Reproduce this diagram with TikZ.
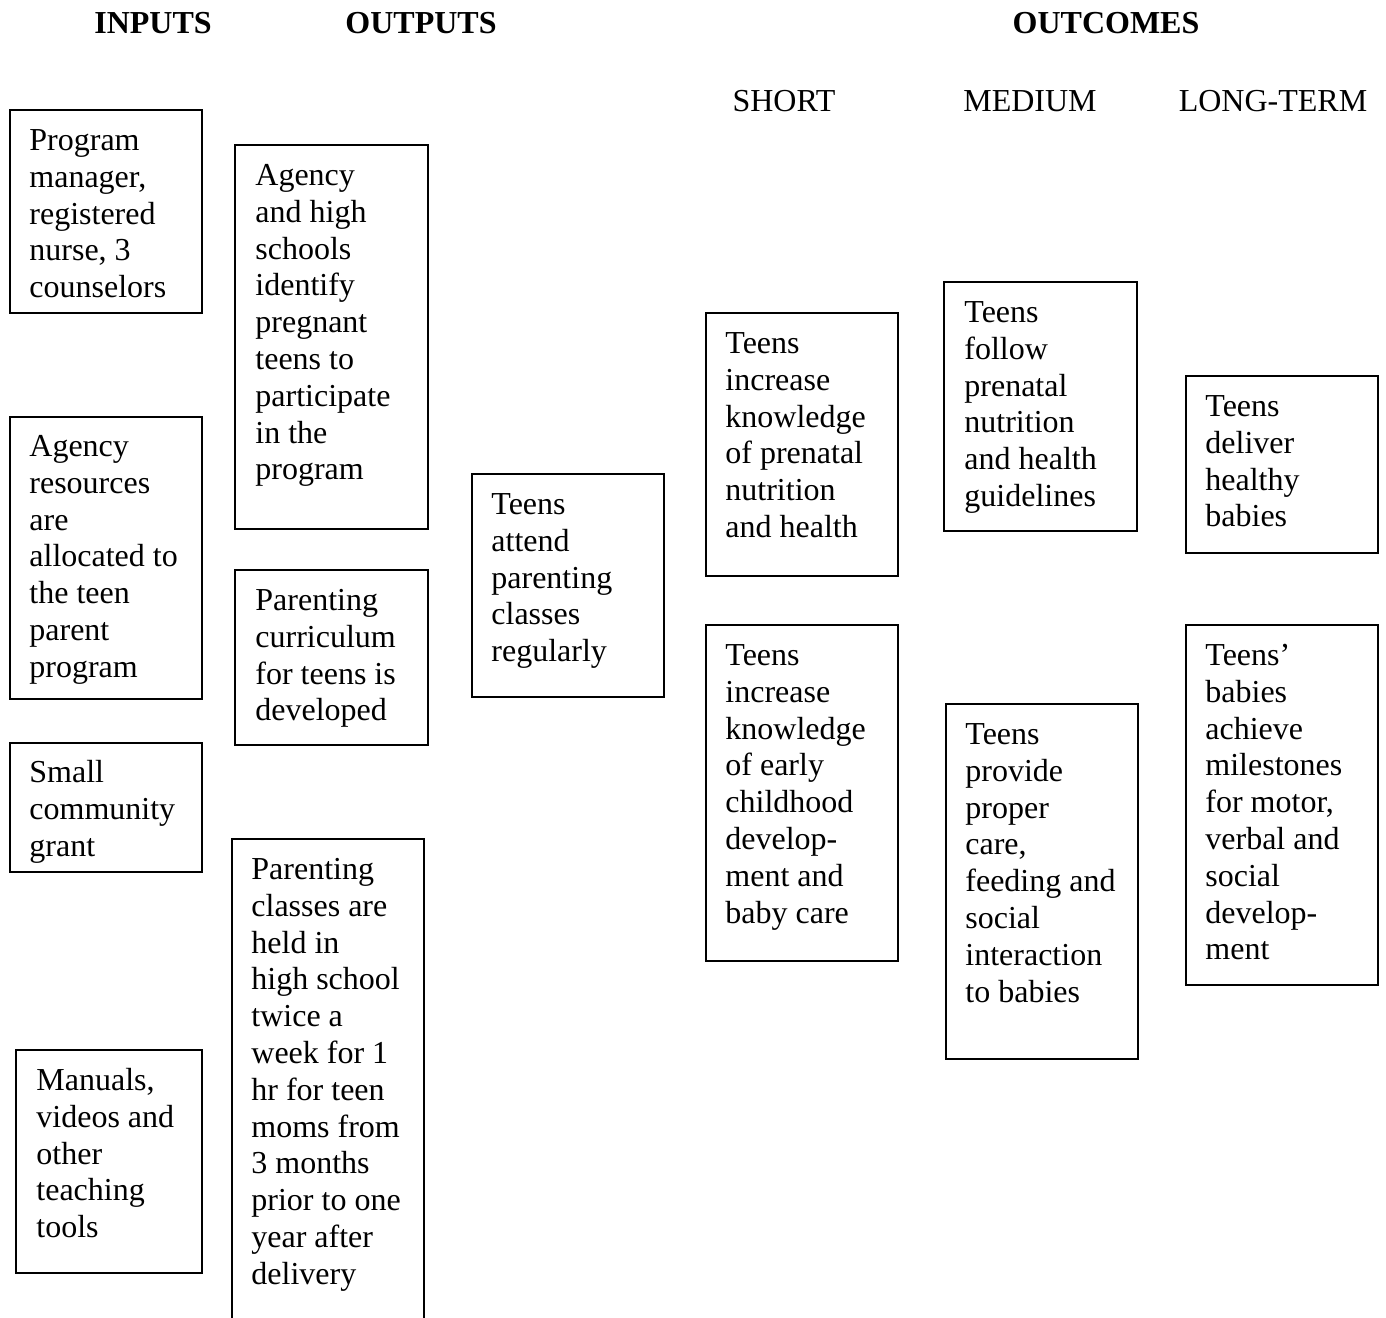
\documentclass[tikz,border=0pt]{standalone}
\usepackage{fontspec}
\setmainfont{Liberation Serif}
\newcommand{\bodyfont}{\fontsize{16}{18.4}\selectfont}
\newcommand{\fs}{\rule{0pt}{20.5pt}}
\begin{document}
\begin{tikzpicture}[x=0.5pt,y=-0.5pt,
  box/.style={draw, line width=1pt, inner sep=0pt, anchor=north west},
  txt/.style={anchor=north west, inner sep=0pt, align=left, font=\bodyfont},
  head/.style={anchor=base, inner sep=0pt, font=\bodyfont\bfseries},
  sub/.style={anchor=base, inner sep=0pt, font=\bodyfont}]
\useasboundingbox (0,0) rectangle (1386,1317);
% headers
\node[head] (hin) at (153,33) {INPUTS};
\node[head] (hout) at (421,33) {OUTPUTS};
\node[head] (hoc) at (1106,33) {OUTCOMES};
\node[sub] (hs) at (784,111) {SHORT};
\node[sub] (hm) at (1030,111) {MEDIUM};
\node[sub] (hl) at (1273,111) {LONG-TERM};
% inputs
\node[box, minimum width=96pt, minimum height=101.5pt] (b1) at (9,109) {};
\node[txt] (t1) at ([xshift=10pt]b1.north west) {\fs Program\\manager,\\registered\\nurse, 3\\counselors};
\node[box, minimum width=96pt, minimum height=141pt] (b2) at (9,416) {};
\node[txt] (t2) at ([xshift=10pt,yshift=0.5pt]b2.north west) {\fs Agency\\resources\\are\\allocated to\\the teen\\parent\\program};
\node[box, minimum width=96pt, minimum height=64.5pt] (b3) at (9,742) {};
\node[txt] (t3) at ([xshift=10pt,yshift=0.5pt]b3.north west) {\fs Small\\community\\grant};
\node[box, minimum width=93pt, minimum height=111.5pt] (b4) at (15,1049) {};
\node[txt] (t4) at ([xshift=10.5pt]b4.north west) {\fs Manuals,\\videos and\\other\\teaching\\tools};
% outputs
\node[box, minimum width=96.5pt, minimum height=192pt] (b5) at (234,144) {};
\node[txt] (t5) at ([xshift=10.5pt]b5.north west) {\fs Agency\\and high\\schools\\identify\\pregnant\\teens to\\participate\\in the\\program};
\node[box, minimum width=96.5pt, minimum height=87.5pt] (b6) at (234,569) {};
\node[txt] (t6) at ([xshift=10.5pt]b6.north west) {\fs Parenting\\curriculum\\for teens is\\developed};
\node[box, minimum width=96pt, minimum height=250pt] (b7) at (231,838) {};
\node[txt] (t7) at ([xshift=10pt]b7.north west) {\fs Parenting\\classes are\\held in\\high school\\twice a\\week for 1\\hr for teen\\moms from\\3 months\\prior to one\\year after\\delivery};
\node[box, minimum width=96pt, minimum height=111.5pt] (b8) at (471,473) {};
\node[txt] (t8) at ([xshift=10pt]b8.north west) {\fs Teens\\attend\\parenting\\classes\\regularly};
% short
\node[box, minimum width=96pt, minimum height=131.5pt] (b9) at (705,312) {};
\node[txt] (t9) at ([xshift=10pt]b9.north west) {\fs Teens\\increase\\knowledge\\of prenatal\\nutrition\\and health};
\node[box, minimum width=96pt, minimum height=168pt] (b10) at (705,624) {};
\node[txt] (t10) at ([xshift=10pt]b10.north west) {\fs Teens\\increase\\knowledge\\of early\\childhood\\develop-\\ment and\\baby care};
% medium
\node[box, minimum width=96.5pt, minimum height=124.5pt] (b11) at (943,281) {};
\node[txt] (t11) at ([xshift=10.5pt]b11.north west) {\fs Teens\\follow\\prenatal\\nutrition\\and health\\guidelines};
\node[box, minimum width=96pt, minimum height=177.5pt] (b12) at (945,703) {};
\node[txt] (t12) at ([xshift=10pt]b12.north west) {\fs Teens\\provide\\proper\\care,\\feeding and\\social\\interaction\\to babies};
% long-term
\node[box, minimum width=96pt, minimum height=88.5pt] (b13) at (1185,375) {};
\node[txt] (t13) at ([xshift=10pt]b13.north west) {\fs Teens\\deliver\\healthy\\babies};
\node[box, minimum width=96pt, minimum height=180pt] (b14) at (1185,624) {};
\node[txt] (t14) at ([xshift=10pt]b14.north west) {\fs Teens’\\babies\\achieve\\milestones\\for motor,\\verbal and\\social\\develop-\\ment};
\end{tikzpicture}
\end{document}
